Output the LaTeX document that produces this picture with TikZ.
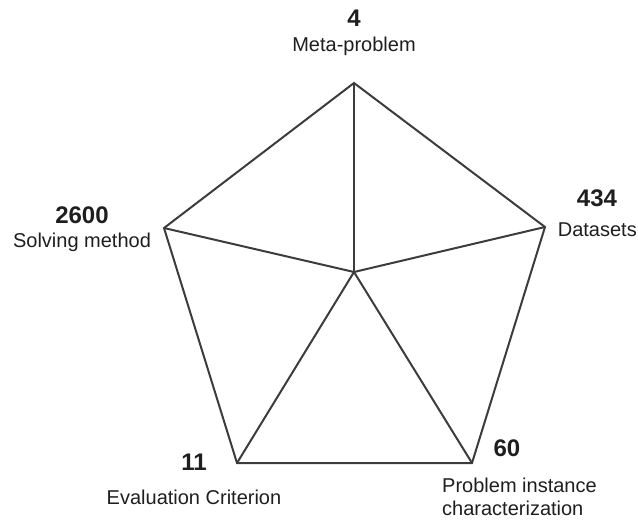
\documentclass[tikz,border=0pt]{standalone}
\usepackage{fontspec}
\setmainfont{Liberation Sans}
\definecolor{edge}{RGB}{60,60,60}
\definecolor{txt}{RGB}{30,30,30}
\begin{document}
\begin{tikzpicture}[x=1pt,y=-1pt,
  edgeline/.style={draw=edge,line width=2pt,line join=miter},
  numlabel/.style={font=\fontsize{24}{26}\selectfont\bfseries,text=txt,inner sep=0pt},
  namelabel/.style={font=\fontsize{20}{22}\selectfont,text=txt,inner sep=0pt}]
\useasboundingbox (0,0) rectangle (638,520);
\coordinate (T) at (354,83);
\coordinate (R) at (545,227);
\coordinate (BR) at (472,463);
\coordinate (BL) at (237,463);
\coordinate (L) at (164,228);
\coordinate (C) at (354,272);
\draw[edgeline] (T) -- (R) -- (BR) -- (BL) -- (L) -- cycle;
\draw[edgeline] (C) -- (T);
\draw[edgeline] (C) -- (R);
\draw[edgeline] (C) -- (BR);
\draw[edgeline] (C) -- (BL);
\draw[edgeline] (C) -- (L);
\node[numlabel] (n4) at (354,18) {4};
\node[namelabel] (m4) at (354,46) {Meta-problem};
\node[numlabel] (n2600) at (82,215) {2600};
\node[namelabel] (m2600) at (82,242) {Solving method};
\node[numlabel] (n434) at (597,198) {434};
\node[namelabel,anchor=east] (m434) at (637,230) {Datasets};
\node[numlabel] (n11) at (194,462) {11};
\node[namelabel] (m11) at (194,497) {Evaluation Criterion};
\node[numlabel] (n60) at (507,448) {60};
\node[namelabel,anchor=west] (m60a) at (442,485) {Problem instance};
\node[namelabel,anchor=west] (m60b) at (442,508) {characterization};
\end{tikzpicture}
\end{document}
